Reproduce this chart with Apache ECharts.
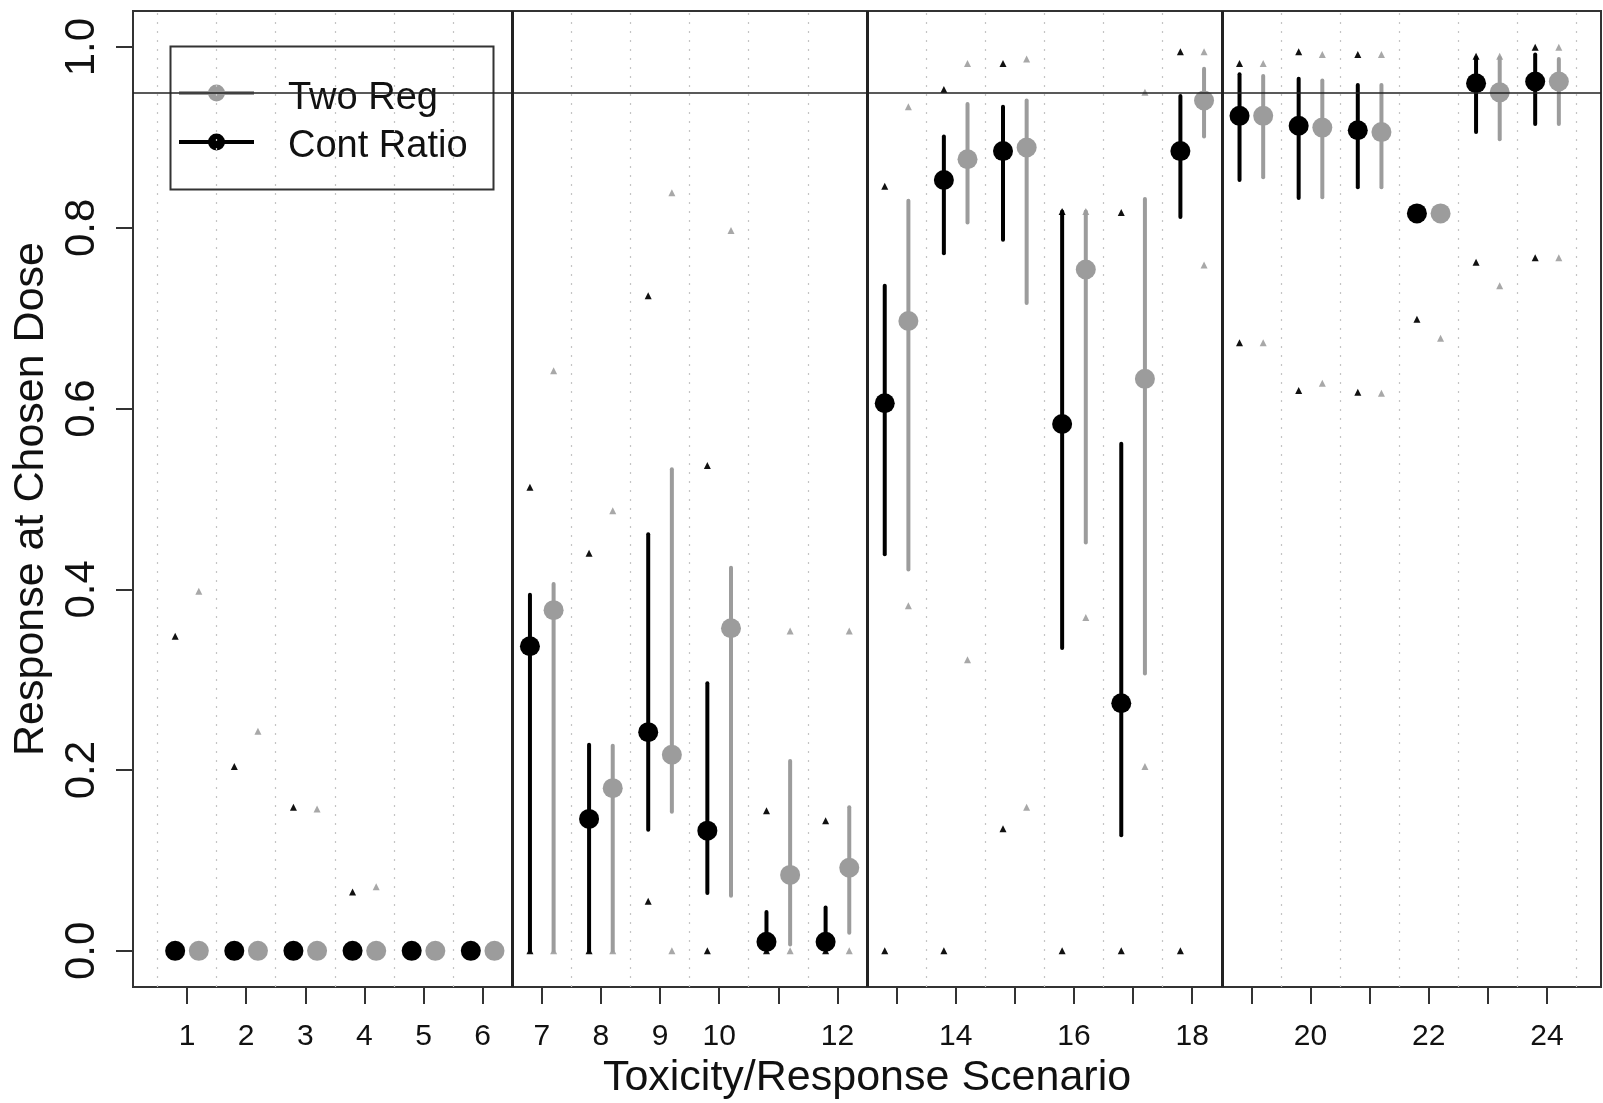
<!DOCTYPE html>
<html><head><meta charset="utf-8">
<script src="https://cdn.jsdelivr.net/npm/echarts@6/dist/echarts.min.js"></script>
<style>html,body{margin:0;padding:0;background:#fff}#c{width:1603px;height:1103px}</style>
</head><body><div id="c"></div>
<script>
// ---- data ----
const scenarios = [1,2,3,4,5,6,7,8,9,10,11,12,13,14,15,16,17,18,19,20,21,22,23,24];
// Cont Ratio (black)
const contPoint = [0,0,0,0,0,0, 0.337,0.146,0.242,0.133,0.010,0.010, 0.606,0.853,0.885,0.583,0.274,0.885, 0.924,0.913,0.908,0.816,0.960,0.962];
const contLow   = [0,0,0,0,0,0, 0,0,0.134,0.064,0,0, 0.439,0.772,0.787,0.335,0.128,0.812, 0.853,0.833,0.845,0.816,0.906,0.915];
const contHigh  = [0,0,0,0,0,0, 0.394,0.228,0.461,0.296,0.043,0.048, 0.736,0.901,0.934,0.818,0.561,0.946, 0.970,0.965,0.958,0.816,0.988,0.992];
const contStarLow  = [0,0,0,0,0,0, 0,0,0.055,0,0,0, 0,0,0.135,0,0,0, 0.673,0.620,0.618,0.699,0.762,0.767];
const contStarHigh = [0.348,0.204,0.159,0.065,0,0, 0.513,0.440,0.725,0.537,0.155,0.144, 0.846,0.953,0.982,0.818,0.817,0.995, 0.982,0.995,0.992,0.816,0.990,1.000];
// Two Reg (grey)
const twoPoint = [0,0,0,0,0,0, 0.377,0.180,0.217,0.357,0.084,0.092, 0.697,0.876,0.889,0.754,0.633,0.941, 0.924,0.911,0.906,0.816,0.950,0.962];
const twoLow   = [0,0,0,0,0,0, 0,0,0.154,0.061,0.007,0.020, 0.422,0.806,0.717,0.452,0.307,0.901, 0.856,0.834,0.845,0.816,0.898,0.915];
const twoHigh  = [0,0,0,0,0,0, 0.406,0.227,0.533,0.424,0.210,0.159, 0.830,0.937,0.941,0.818,0.832,0.976, 0.968,0.963,0.958,0.816,0.988,0.987];
const twoStarLow  = [0,0,0,0,0,0, 0,0,0,null,0,0, 0.382,0.322,0.159,0.369,0.204,0.759, 0.673,0.628,0.617,0.678,0.736,0.767];
const twoStarHigh = [0.398,0.243,0.157,0.071,0,0, 0.642,0.487,0.839,0.797,0.354,0.354, 0.934,0.982,0.987,0.818,0.950,0.995, 0.982,0.992,0.992,0.816,0.990,1.000];

const xTickValues = [1,2,3,4,5,6,7,8,9,10,11,12,13,14,15,16,17,18,19,20,21,22,23,24];
const xLabelValues = [1,2,3,4,5,6,7,8,9,10,12,14,16,18,20,22,24];
const yTickValues = [0,0.2,0.4,0.6,0.8,1.0];
const groupBreaks = [6.5,12.5,18.5];
const dottedGrid = [0.5,1.5,2.5,3.5,4.5,5.5,7.5,8.5,9.5,10.5,11.5,13.5,14.5,15.5,16.5,17.5,19.5,20.5,21.5,22.5,23.5,24.5];
const targetLine = 0.95;
const seriesNames = ['Two Reg','Cont Ratio'];
const offset = 0.2;

// ---- styles ----
const BLACK = '#000000', GREY = '#9c9c9c', GREY_STAR = '#a8a8a8';
const FONT = '"Liberation Sans", Arial, Helvetica, sans-serif';

function barRenderer(color){
  return function(params, api){
    const x = api.value(0), lo = api.value(1), hi = api.value(2);
    if (lo === hi) return null;
    const p1 = api.coord([x, lo]), p2 = api.coord([x, hi]);
    return {type:'line', shape:{x1:p1[0],y1:p1[1],x2:p2[0],y2:p2[1]},
      style:{stroke:color, lineWidth:4, lineCap:'round'}};
  };
}
function starData(arr, sign){
  return scenarios.map((s,i)=>arr[i]==null?null:[s+sign*offset, arr[i]]).filter(d=>d);
}

const chart = echarts.init(document.getElementById('c'), null, {renderer:'canvas'});
const markData = []
  .concat(dottedGrid.map(v=>({xAxis:v, lineStyle:{type:[2,7], color:'#c4c4c4', width:1.2}})))
  .concat(groupBreaks.map(v=>({xAxis:v, lineStyle:{type:'solid', color:'#222', width:3}})))
  .concat([{yAxis:targetLine, lineStyle:{type:'solid', color:'#222', width:1.5}}]);

chart.setOption({
  animation:false,
  backgroundColor:'#fff',
  textStyle:{fontFamily:FONT},
  grid:{left:133, top:11, width:1468, height:976, show:true, borderColor:'#333', borderWidth:2,
        backgroundColor:'transparent', outerBoundsMode:'none'},
  xAxis:{type:'value', min:0.087, max:24.913,
    axisLine:{show:true, onZero:false, lineStyle:{color:'#333', width:2}},
    axisTick:{show:true, customValues:xTickValues, length:17, lineStyle:{color:'#333', width:2}},
    axisLabel:{customValues:xLabelValues, fontSize:30, color:'#111', margin:35, fontFamily:FONT},
    splitLine:{show:false},
    name:'Toxicity/Response Scenario', nameLocation:'middle', nameGap:70,
    nameTextStyle:{fontSize:43, color:'#111', fontFamily:FONT}},
  yAxis:{type:'value', min:-0.04, max:1.04,
    axisLine:{show:true, onZero:false, lineStyle:{color:'#333', width:2}},
    axisTick:{show:true, customValues:yTickValues, length:17, lineStyle:{color:'#333', width:2}},
    axisLabel:{customValues:yTickValues, fontSize:42, color:'#111', margin:30, rotate:90,
      formatter:v=>Number(v).toFixed(1), fontFamily:FONT},
    splitLine:{show:false},
    name:'Response at Chosen Dose', nameLocation:'middle', nameRotate:90, nameGap:78,
    nameTextStyle:{fontSize:43, color:'#111', fontFamily:FONT}},
  series:[
    {type:'scatter', data:[], silent:true, z:1,
     markLine:{silent:true, symbol:'none', label:{show:false}, animation:false, data:markData}},
    {type:'custom', name:'contBars', renderItem:barRenderer(BLACK), z:3,
     encode:{x:0, y:[1,2]},
     data:scenarios.map((s,i)=>[s-offset, contLow[i], contHigh[i]])},
    {type:'custom', name:'twoBars', renderItem:barRenderer(GREY), z:3,
     encode:{x:0, y:[1,2]},
     data:scenarios.map((s,i)=>[s+offset, twoLow[i], twoHigh[i]])},
    {type:'scatter', name:'contStars', symbol:'triangle', symbolSize:7, z:2,
     itemStyle:{color:'#111', opacity:1}, data:starData(contStarLow,-1).concat(starData(contStarHigh,-1))},
    {type:'scatter', name:'twoStars', symbol:'triangle', symbolSize:7, z:2,
     itemStyle:{color:GREY_STAR, opacity:1}, data:starData(twoStarLow,1).concat(starData(twoStarHigh,1))},
    {type:'scatter', name:seriesNames[1], symbol:'circle', symbolSize:20, z:4,
     itemStyle:{color:BLACK, opacity:1}, data:scenarios.map((s,i)=>[s-offset, contPoint[i]])},
    {type:'scatter', name:seriesNames[0], symbol:'circle', symbolSize:20, z:4,
     itemStyle:{color:GREY, opacity:1}, data:scenarios.map((s,i)=>[s+offset, twoPoint[i]])}
  ],
  graphic:[
    {type:'group', z:100, children:[
      {type:'rect', shape:{x:170.5, y:46.5, width:323, height:143}, style:{fill:'#fff', stroke:'#333', lineWidth:2}},
      {type:'line', shape:{x1:179, y1:93, x2:254, y2:93}, style:{stroke:GREY, lineWidth:4}},
      {type:'circle', shape:{cx:216.5, cy:93, r:8.5}, style:{fill:GREY}},
      {type:'line', shape:{x1:179, y1:142, x2:254, y2:142}, style:{stroke:BLACK, lineWidth:4}},
      {type:'circle', shape:{cx:216.5, cy:142, r:8.5}, style:{fill:BLACK}},
      {type:'text', x:288, y:99, style:{text:seriesNames[0], font:'38px '+FONT, fill:'#111', verticalAlign:'middle'}},
      {type:'text', x:288, y:147, style:{text:seriesNames[1], font:'38px '+FONT, fill:'#111', verticalAlign:'middle'}}
    ]}
  ]
});
</script></body></html>
